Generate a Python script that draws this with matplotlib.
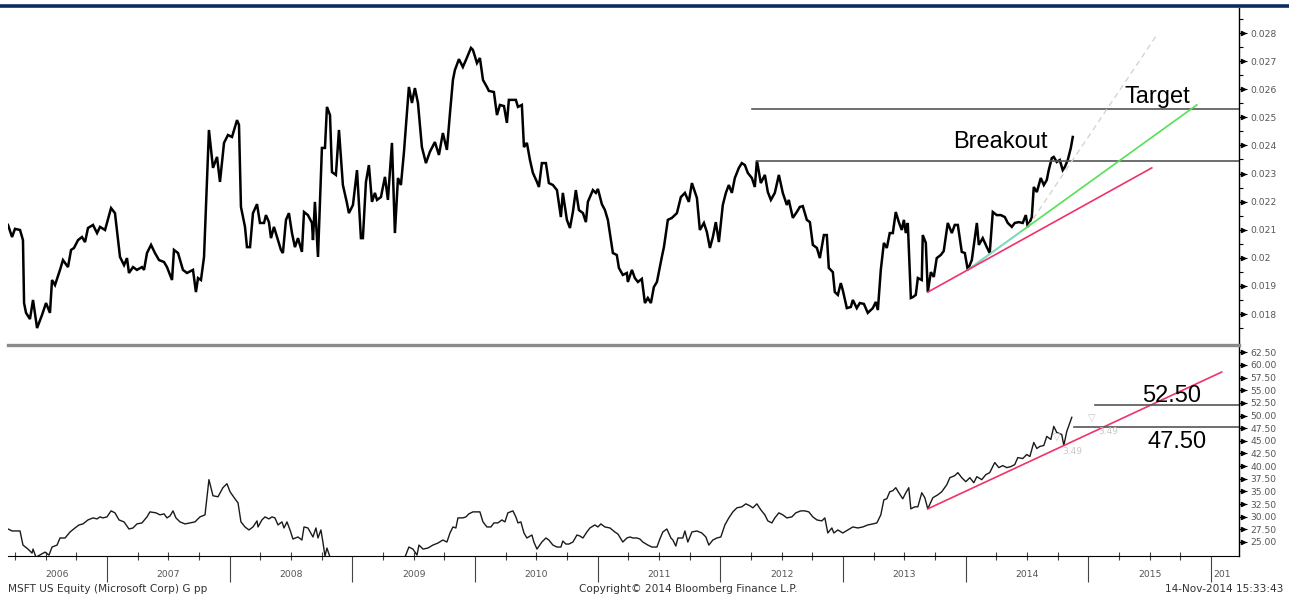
import numpy as np
import matplotlib
matplotlib.use("Agg")
import matplotlib.pyplot as plt
from matplotlib.ticker import FixedLocator, FuncFormatter, NullFormatter
from matplotlib.lines import Line2D

# top panel: MSFT ratio series (decimal years, value)
ratio_dates = [
    2006.193, 2006.226, 2006.250, 2006.291, 2006.315, 2006.324, 2006.340, 2006.372, 2006.397, 2006.430,
    2006.470, 2006.503, 2006.535, 2006.552, 2006.576, 2006.617, 2006.641, 2006.682, 2006.707, 2006.731,
    2006.764, 2006.796, 2006.821, 2006.845, 2006.886, 2006.919, 2006.943, 2006.984, 2007.033, 2007.065,
    2007.106, 2007.139, 2007.163, 2007.179, 2007.212, 2007.244, 2007.285, 2007.302, 2007.326, 2007.359,
    2007.391, 2007.424, 2007.465, 2007.489, 2007.530, 2007.546, 2007.579, 2007.619, 2007.652, 2007.701,
    2007.725, 2007.742, 2007.766, 2007.791, 2007.831, 2007.864, 2007.897, 2007.921, 2007.954, 2007.986,
    2008.019, 2008.060, 2008.076, 2008.092, 2008.125, 2008.141, 2008.166, 2008.190, 2008.223, 2008.247,
    2008.280, 2008.296, 2008.320, 2008.337, 2008.361, 2008.394, 2008.418, 2008.434, 2008.459, 2008.483,
    2008.508, 2008.532, 2008.557, 2008.589, 2008.606, 2008.638, 2008.671, 2008.679, 2008.695, 2008.720,
    2008.752, 2008.777, 2008.793, 2008.818, 2008.834, 2008.866, 2008.891, 2008.923, 2008.956, 2008.972,
    2009.005, 2009.038, 2009.070, 2009.086, 2009.111, 2009.135, 2009.160, 2009.184, 2009.201, 2009.233,
    2009.266, 2009.290, 2009.323, 2009.347, 2009.372, 2009.396, 2009.421, 2009.461, 2009.486, 2009.510,
    2009.535, 2009.567, 2009.600, 2009.632, 2009.673, 2009.706, 2009.738, 2009.771, 2009.796, 2009.820,
    2009.836, 2009.869, 2009.901, 2009.926, 2009.967, 2009.983, 2010.016, 2010.040, 2010.065, 2010.097,
    2010.113, 2010.154, 2010.179, 2010.203, 2010.236, 2010.260, 2010.276, 2010.309, 2010.333, 2010.350,
    2010.382, 2010.399, 2010.423, 2010.448, 2010.472, 2010.505, 2010.521, 2010.545, 2010.578, 2010.602,
    2010.635, 2010.668, 2010.700, 2010.716, 2010.749, 2010.774, 2010.798, 2010.822, 2010.847, 2010.880,
    2010.904, 2010.920, 2010.961, 2010.985, 2011.002, 2011.034, 2011.059, 2011.083, 2011.124, 2011.156,
    2011.173, 2011.205, 2011.238, 2011.246, 2011.279, 2011.303, 2011.328, 2011.360, 2011.385, 2011.409,
    2011.434, 2011.458, 2011.483, 2011.523, 2011.540, 2011.572, 2011.605, 2011.646, 2011.678, 2011.711,
    2011.743, 2011.768, 2011.809, 2011.833, 2011.866, 2011.890, 2011.915, 2011.939, 2011.963, 2011.988,
    2012.020, 2012.045, 2012.069, 2012.094, 2012.118, 2012.151, 2012.175, 2012.200, 2012.224, 2012.257,
    2012.281, 2012.298, 2012.330, 2012.363, 2012.387, 2012.412, 2012.444, 2012.477, 2012.509, 2012.542,
    2012.558, 2012.591, 2012.623, 2012.648, 2012.672, 2012.705, 2012.730, 2012.754, 2012.787, 2012.811,
    2012.844, 2012.868, 2012.884, 2012.917, 2012.933, 2012.958, 2012.982, 2012.998, 2013.031, 2013.064,
    2013.080, 2013.112, 2013.137, 2013.170, 2013.202, 2013.243, 2013.267, 2013.284, 2013.308, 2013.333,
    2013.357, 2013.381, 2013.406, 2013.430, 2013.455, 2013.479, 2013.496, 2013.512, 2013.528, 2013.553,
    2013.569, 2013.593, 2013.610, 2013.642, 2013.650, 2013.675, 2013.691, 2013.716, 2013.740, 2013.764,
    2013.797, 2013.821, 2013.854, 2013.887, 2013.911, 2013.936, 2013.968, 2013.993, 2014.017, 2014.050,
    2014.091, 2014.107, 2014.139, 2014.172, 2014.196, 2014.221, 2014.253, 2014.286, 2014.319, 2014.343,
    2014.376, 2014.400, 2014.433, 2014.465, 2014.490, 2014.506, 2014.539, 2014.555, 2014.580, 2014.612,
    2014.637, 2014.661, 2014.677, 2014.702, 2014.718, 2014.742, 2014.767, 2014.791, 2014.808, 2014.832,
    2014.857, 2014.873,
]
ratio_values = [
    0.02117, 0.02074, 0.02103, 0.02099, 0.02063, 0.01839, 0.01804, 0.01782, 0.01850, 0.01750,
    0.01796, 0.01839, 0.01804, 0.01921, 0.01903, 0.01957, 0.01992, 0.01967, 0.02028, 0.02035,
    0.02063, 0.02074, 0.02056, 0.02106, 0.02117, 0.02088, 0.02110, 0.02099, 0.02177, 0.02159,
    0.02003, 0.01974, 0.01999, 0.01946, 0.01967, 0.01957, 0.01967, 0.01957, 0.02017, 0.02046,
    0.02017, 0.01992, 0.01985, 0.01967, 0.01921, 0.02028, 0.02017, 0.01957, 0.01946, 0.01957,
    0.01878, 0.01928, 0.01921, 0.02003, 0.02455, 0.02320, 0.02359, 0.02270, 0.02409, 0.02437,
    0.02430, 0.02490, 0.02473, 0.02181, 0.02110, 0.02038, 0.02038, 0.02159, 0.02191, 0.02124,
    0.02124, 0.02152, 0.02127, 0.02070, 0.02110, 0.02063, 0.02028, 0.02017, 0.02135, 0.02159,
    0.02088, 0.02038, 0.02070, 0.02021, 0.02163, 0.02152, 0.02124, 0.02063, 0.02199, 0.02003,
    0.02391, 0.02391, 0.02537, 0.02508, 0.02305, 0.02295, 0.02455, 0.02259, 0.02195, 0.02159,
    0.02188, 0.02312, 0.02070, 0.02070, 0.02270, 0.02330, 0.02199, 0.02231, 0.02206, 0.02216,
    0.02288, 0.02206, 0.02409, 0.02088, 0.02284, 0.02259, 0.02377, 0.02608, 0.02551, 0.02604,
    0.02551, 0.02394, 0.02337, 0.02377, 0.02412, 0.02366, 0.02444, 0.02384, 0.02515, 0.02633,
    0.02668, 0.02707, 0.02679, 0.02704, 0.02747, 0.02740, 0.02693, 0.02711, 0.02633, 0.02608,
    0.02594, 0.02590, 0.02508, 0.02544, 0.02540, 0.02480, 0.02562, 0.02562, 0.02562, 0.02537,
    0.02544, 0.02394, 0.02409, 0.02348, 0.02302, 0.02270, 0.02252, 0.02337, 0.02337, 0.02266,
    0.02259, 0.02241, 0.02145, 0.02231, 0.02135, 0.02106, 0.02163, 0.02241, 0.02170, 0.02159,
    0.02127, 0.02199, 0.02241, 0.02231, 0.02245, 0.02191, 0.02170, 0.02135, 0.02017, 0.02010,
    0.01964, 0.01939, 0.01946, 0.01914, 0.01957, 0.01928, 0.01914, 0.01925, 0.01839, 0.01857,
    0.01839, 0.01896, 0.01914, 0.02003, 0.02038, 0.02135, 0.02142, 0.02159, 0.02216, 0.02231,
    0.02199, 0.02266, 0.02213, 0.02099, 0.02124, 0.02092, 0.02035, 0.02074, 0.02127, 0.02056,
    0.02188, 0.02231, 0.02259, 0.02231, 0.02284, 0.02320, 0.02337, 0.02330, 0.02302, 0.02284,
    0.02252, 0.02346, 0.02266, 0.02295, 0.02234, 0.02206, 0.02231, 0.02295, 0.02231, 0.02188,
    0.02206, 0.02142, 0.02163, 0.02181, 0.02184, 0.02135, 0.02127, 0.02046, 0.02035, 0.01999,
    0.02081, 0.02081, 0.01964, 0.01949, 0.01878, 0.01868, 0.01910, 0.01885, 0.01821, 0.01825,
    0.01850, 0.01821, 0.01839, 0.01836, 0.01804, 0.01821, 0.01843, 0.01814, 0.01957, 0.02053,
    0.02035, 0.02088, 0.02088, 0.02163, 0.02127, 0.02099, 0.02135, 0.02088, 0.02124, 0.01857,
    0.01860, 0.01868, 0.01928, 0.01921, 0.02081, 0.02053, 0.01878, 0.01949, 0.01932, 0.01999,
    0.02010, 0.02024, 0.02124, 0.02088, 0.02117, 0.02117, 0.02021, 0.02017, 0.01957, 0.01992,
    0.02124, 0.02046, 0.02070, 0.02038, 0.02017, 0.02163, 0.02152, 0.02152, 0.02145, 0.02124,
    0.02110, 0.02124, 0.02127, 0.02124, 0.02152, 0.02110, 0.02145, 0.02252, 0.02234, 0.02284,
    0.02259, 0.02277, 0.02312, 0.02355, 0.02359, 0.02341, 0.02348, 0.02312, 0.02323, 0.02348,
    0.02391, 0.02430,
]

# bottom panel: MSFT share price
price_dates = [
    2006.193, 2006.226, 2006.291, 2006.315, 2006.356, 2006.389, 2006.397, 2006.421, 2006.495, 2006.527,
    2006.552, 2006.593, 2006.617, 2006.658, 2006.699, 2006.739, 2006.772, 2006.804, 2006.845, 2006.886,
    2006.919, 2006.943, 2006.967, 2007.000, 2007.033, 2007.065, 2007.098, 2007.139, 2007.179, 2007.212,
    2007.244, 2007.285, 2007.326, 2007.350, 2007.399, 2007.432, 2007.465, 2007.489, 2007.514, 2007.538,
    2007.562, 2007.595, 2007.636, 2007.677, 2007.717, 2007.758, 2007.799, 2007.831, 2007.864, 2007.905,
    2007.945, 2007.978, 2008.003, 2008.043, 2008.068, 2008.092, 2008.125, 2008.157, 2008.190, 2008.223,
    2008.231, 2008.263, 2008.288, 2008.320, 2008.345, 2008.369, 2008.394, 2008.426, 2008.443, 2008.467,
    2008.492, 2008.516, 2008.557, 2008.589, 2008.606, 2008.638, 2008.679, 2008.703, 2008.720, 2008.744,
    2008.760, 2008.777, 2008.793, 2008.818, 2008.870, 2008.950, 2009.050, 2009.130, 2009.190, 2009.260,
    2009.330, 2009.390, 2009.429, 2009.461, 2009.494, 2009.527, 2009.543, 2009.576, 2009.616, 2009.657,
    2009.698, 2009.738, 2009.771, 2009.796, 2009.820, 2009.844, 2009.861, 2009.901, 2009.926, 2009.950,
    2009.983, 2010.016, 2010.040, 2010.065, 2010.097, 2010.130, 2010.154, 2010.187, 2010.219, 2010.244,
    2010.268, 2010.309, 2010.333, 2010.350, 2010.374, 2010.399, 2010.423, 2010.464, 2010.480, 2010.505,
    2010.545, 2010.578, 2010.602, 2010.635, 2010.668, 2010.700, 2010.716, 2010.741, 2010.765, 2010.798,
    2010.831, 2010.855, 2010.880, 2010.912, 2010.937, 2010.977, 2011.002, 2011.026, 2011.059, 2011.100,
    2011.140, 2011.165, 2011.205, 2011.238, 2011.263, 2011.287, 2011.320, 2011.344, 2011.368, 2011.409,
    2011.442, 2011.483, 2011.507, 2011.531, 2011.564, 2011.597, 2011.613, 2011.637, 2011.654, 2011.694,
    2011.711, 2011.735, 2011.768, 2011.809, 2011.849, 2011.882, 2011.906, 2011.939, 2011.972, 2012.004,
    2012.037, 2012.069, 2012.102, 2012.135, 2012.175, 2012.208, 2012.241, 2012.265, 2012.298, 2012.330,
    2012.363, 2012.387, 2012.420, 2012.444, 2012.477, 2012.509, 2012.542, 2012.583, 2012.615, 2012.656,
    2012.689, 2012.721, 2012.754, 2012.787, 2012.827, 2012.852, 2012.876, 2012.909, 2012.925, 2012.958,
    2012.998, 2013.039, 2013.080, 2013.121, 2013.161, 2013.202, 2013.243, 2013.276, 2013.308, 2013.333,
    2013.357, 2013.381, 2013.406, 2013.430, 2013.455, 2013.487, 2013.512, 2013.536, 2013.553, 2013.585,
    2013.610, 2013.642, 2013.667, 2013.691, 2013.732, 2013.773, 2013.805, 2013.846, 2013.871, 2013.911,
    2013.936, 2013.968, 2014.001, 2014.034, 2014.066, 2014.091, 2014.131, 2014.164, 2014.196, 2014.237,
    2014.270, 2014.302, 2014.335, 2014.368, 2014.400, 2014.425, 2014.465, 2014.498, 2014.523, 2014.555,
    2014.580, 2014.604, 2014.637, 2014.661, 2014.694, 2014.718, 2014.742, 2014.783, 2014.800, 2014.824,
    2014.865,
]
price_values = [
    27.57, 27.18, 27.18, 24.39, 23.60, 22.80, 23.60, 22.00, 23.00, 22.40,
    24.00, 24.39, 25.79, 25.79, 26.98, 27.77, 28.37, 28.57, 29.36, 29.76,
    29.56, 29.96, 29.76, 29.96, 31.15, 30.76, 29.36, 28.97, 27.57, 27.77,
    28.57, 28.77, 29.96, 30.95, 30.76, 30.36, 30.56, 29.76, 30.16, 31.15,
    29.76, 28.97, 28.57, 28.77, 28.97, 29.96, 30.36, 37.32, 34.14, 33.94,
    35.73, 36.52, 34.93, 33.54, 32.74, 28.97, 27.97, 27.38, 27.97, 29.17,
    27.97, 29.36, 29.96, 29.56, 29.96, 29.76, 28.37, 28.97, 27.77, 28.97,
    27.38, 25.59, 25.99, 25.39, 27.97, 27.77, 25.99, 27.77, 25.79, 27.38,
    24.99, 22.21, 23.80, 22.01, 20.50, 19.60, 18.20, 17.00, 15.60, 17.80,
    19.20, 20.60, 22.01, 24.00, 23.60, 22.41, 24.39, 23.60, 23.80, 24.39,
    24.79, 25.39, 24.99, 26.78, 27.97, 27.77, 29.76, 29.76, 29.96, 30.56,
    30.95, 30.95, 30.95, 28.97, 27.97, 27.97, 28.77, 28.77, 29.36, 28.97,
    30.76, 31.15, 29.96, 28.77, 28.97, 26.78, 25.79, 26.38, 24.99, 23.60,
    24.99, 25.79, 25.39, 24.39, 24.00, 24.00, 25.19, 24.59, 24.59, 24.99,
    26.38, 26.18, 25.79, 26.98, 27.77, 28.37, 27.97, 28.57, 27.97, 27.77,
    26.98, 26.58, 24.99, 25.79, 25.99, 25.79, 25.79, 25.59, 24.99, 24.39,
    24.00, 24.00, 25.59, 26.98, 27.57, 25.79, 25.39, 24.20, 25.79, 25.79,
    27.18, 24.99, 26.98, 27.18, 26.78, 25.99, 24.39, 25.39, 25.79, 25.99,
    28.37, 29.76, 30.95, 31.75, 31.95, 32.54, 32.15, 31.75, 32.54, 31.35,
    30.36, 29.17, 28.77, 29.76, 30.76, 30.36, 29.76, 29.96, 30.76, 31.15,
    31.15, 30.95, 29.96, 29.36, 29.17, 29.76, 26.78, 27.77, 26.78, 27.38,
    26.78, 27.38, 27.97, 27.77, 27.97, 28.37, 28.57, 28.77, 30.36, 33.34,
    33.54, 34.93, 35.13, 35.73, 34.73, 33.54, 34.73, 35.73, 31.55, 31.95,
    31.95, 34.73, 33.74, 31.55, 33.74, 34.33, 34.93, 36.32, 37.71, 38.11,
    38.71, 37.71, 36.92, 37.71, 36.72, 37.91, 37.32, 38.31, 38.71, 40.70,
    39.70, 40.10, 39.70, 39.90, 40.30, 41.69, 41.49, 42.29, 41.89, 44.67,
    43.48, 43.88, 44.08, 45.87, 45.27, 47.85, 46.66, 46.26, 44.08, 46.86,
    49.64,
]

# axis settings
x_range = (2006.193, 2016.228)
ratio_range = (0.016968, 0.028890)
price_range = (22.23, 63.54)
ratio_ticks = [0.018, 0.019, 0.020, 0.021, 0.022, 0.023, 0.024, 0.025, 0.026, 0.027, 0.028]
ratio_minor = [0.0175, 0.0185, 0.0195, 0.0205, 0.0215, 0.0225, 0.0235, 0.0245, 0.0255, 0.0265, 0.0275, 0.0285]
price_ticks = [25.0, 27.5, 30.0, 32.5, 35.0, 37.5, 40.0, 42.5, 45.0, 47.5, 50.0, 52.5, 55.0, 57.5, 60.0, 62.5]
year_bounds = [2007, 2008, 2009, 2010, 2011, 2012, 2013, 2014, 2015, 2016]
year_labels = ["2006", "2007", "2008", "2009", "2010", "2011", "2012", "2013", "2014", "2015", "201"]
year_label_pos = [2006.596, 2007.5, 2008.5, 2009.5, 2010.5, 2011.5, 2012.5, 2013.5, 2014.5, 2015.5, 2016.09]

# drawn annotations
breakout_level = 0.02346
breakout_start = 2012.298
target_level = 0.02530
target_start = 2012.257
ratio_red = ([2013.691, 2015.517], [0.01878, 0.02320])
ratio_green = ([2014.017, 2015.884], [0.01957, 0.02544])
ratio_cyan = ([2014.017, 2014.440], [0.01957, 0.02090])
ratio_gray = ([2014.506, 2015.558], [0.02110, 0.02793])
price_red = ([2013.691, 2016.087], [31.55, 58.59])
upper_level = 52.10
upper_start = 2015.052
lower_level = 47.80
lower_start = 2014.881

W, H = 1289, 596
fig = plt.figure(figsize=(W / 100, H / 100), dpi=100)
fig.patch.set_facecolor("white")

ax1 = fig.add_axes([8 / W, 1 - 343 / H, 1231 / W, 335 / H])
ax2 = fig.add_axes([8 / W, 1 - 556 / H, 1231 / W, 209 / H])

tick_col = "#555555"
for ax in (ax1, ax2):
    ax.spines["top"].set_visible(False)
    ax.spines["left"].set_visible(False)
    ax.spines["right"].set_color("black")
    ax.spines["right"].set_linewidth(1.0)
    ax.yaxis.tick_right()
    ax.set_xlim(*x_range)
    ax.tick_params(axis="y", which="major", length=6, width=0.8, pad=2,
                   labelsize=6.6, colors="black")
    ax.tick_params(axis="y", which="minor", length=3, width=0.8)
    ax.tick_params(axis="y", labelcolor=tick_col)

# ---- top panel
ax1.spines["bottom"].set_visible(False)
ax1.set_xticks([])
ax1.set_ylim(*ratio_range)
ax1.yaxis.set_major_locator(FixedLocator(ratio_ticks))
ax1.yaxis.set_minor_locator(FixedLocator(ratio_minor))
ax1.yaxis.set_major_formatter(FuncFormatter(lambda v, p: ("%.3f" % v).rstrip("0")))
ax1.plot(ratio_dates, ratio_values, color="black", lw=1.8, solid_joinstyle="miter")
ax1.plot(np.full(len(ratio_ticks), 1.003), ratio_ticks, ls="none", marker=">", ms=3,
         color="black", transform=ax1.get_yaxis_transform(), clip_on=False)

ax1.plot([breakout_start, x_range[1]], [breakout_level] * 2, color="#555555", lw=1.2)
ax1.plot([target_start, x_range[1]], [target_level] * 2, color="#555555", lw=1.2)
ax1.plot(*ratio_gray, color="#d4d4d4", lw=1.0, ls=(0, (4, 3)))
ax1.plot(*ratio_green, color="#55e055", lw=1.2)
ax1.plot(*ratio_cyan, color="#7fd8d0", lw=1.2)
ax1.plot(*ratio_red, color="#f03268", lw=1.2)
ax1.text(2013.895, 0.02391, "Breakout", fontsize=17, family="Liberation Sans",
         ha="left", va="baseline", color="black")
ax1.text(2015.297, 0.02551, "Target", fontsize=17, family="Liberation Sans",
         ha="left", va="baseline", color="black")

# ---- bottom panel
ax2.spines["bottom"].set_color("black")
ax2.set_ylim(*price_range)
ax2.yaxis.set_major_locator(FixedLocator(price_ticks))
ax2.yaxis.set_major_formatter(FuncFormatter(lambda v, p: "%.2f" % v))
ax2.plot(price_dates, price_values, color="#1a1a1a", lw=1.0)
ax2.plot(np.full(len(price_ticks), 1.003), price_ticks, ls="none", marker=">", ms=3,
         color="black", transform=ax2.get_yaxis_transform(), clip_on=False)

ax2.plot(*price_red, color="#f03268", lw=1.2)
ax2.plot([upper_start, x_range[1]], [upper_level] * 2, color="#555555", lw=1.2)
ax2.plot([lower_start, x_range[1]], [lower_level] * 2, color="#555555", lw=1.2)
ax2.text(2015.435, 52.67, "52.50", fontsize=17, family="Liberation Sans", ha="left", va="baseline")
ax2.text(2015.484, 43.58, "47.50", fontsize=17, family="Liberation Sans", ha="left", va="baseline")
# faint fib markers left by the terminal
ax2.text(2015.028, 49.51, "\u25bd", fontsize=7, color="#c8c8c8", ha="center", va="center")
ax2.text(2014.742, 45.75, "\u25bd", fontsize=7, color="#c8c8c8", ha="center", va="center")
ax2.text(2015.077, 46.74, "3.49", fontsize=6.5, color="#c8c8c8", ha="left", va="center")
ax2.text(2014.791, 42.98, "3.49", fontsize=6.5, color="#c8c8c8", ha="left", va="center")

# x axis: year boundaries + quarter ticks
quarters = [y + q for y in range(2006, 2017) for q in (0.25, 0.5, 0.75, 1.0)]
quarters = [q for q in quarters if x_range[0] < q < x_range[1] and q not in year_bounds]
ax2.xaxis.set_major_locator(FixedLocator(year_bounds))
ax2.xaxis.set_minor_locator(FixedLocator(quarters))
ax2.xaxis.set_major_formatter(NullFormatter())
ax2.tick_params(axis="x", which="major", direction="out", length=19, width=0.8, color="#444444")
ax2.tick_params(axis="x", which="minor", direction="inout", length=6, width=0.8, color="#444444")
for lab, pos in zip(year_labels, year_label_pos):
    ax2.text(pos, -0.09, lab, transform=ax2.get_xaxis_transform(), ha="center", va="center",
             fontsize=6.7, color=tick_col)

# frame lines and footer
fig.add_artist(Line2D([0, 1], [1 - 6 / H] * 2, transform=fig.transFigure, color="#0d2b5e", lw=2.6))
fig.add_artist(Line2D([8 / W, 1239 / W], [1 - 345 / H] * 2, transform=fig.transFigure,
                      color="#8a8a8a", lw=2.4))
fig.text(8 / W, 1 - 589 / H, "MSFT US Equity (Microsoft Corp) G pp", fontsize=7.6,
         color="#333333", ha="left", va="center")
fig.text(688 / W, 1 - 589 / H, "Copyright\u00a9 2014 Bloomberg Finance L.P.", fontsize=7.6,
         color="#333333", ha="center", va="center")
fig.text(1283 / W, 1 - 589 / H, "14-Nov-2014 15:33:43", fontsize=7.6,
         color="#333333", ha="right", va="center")

fig.savefig("out.png", dpi=100)
